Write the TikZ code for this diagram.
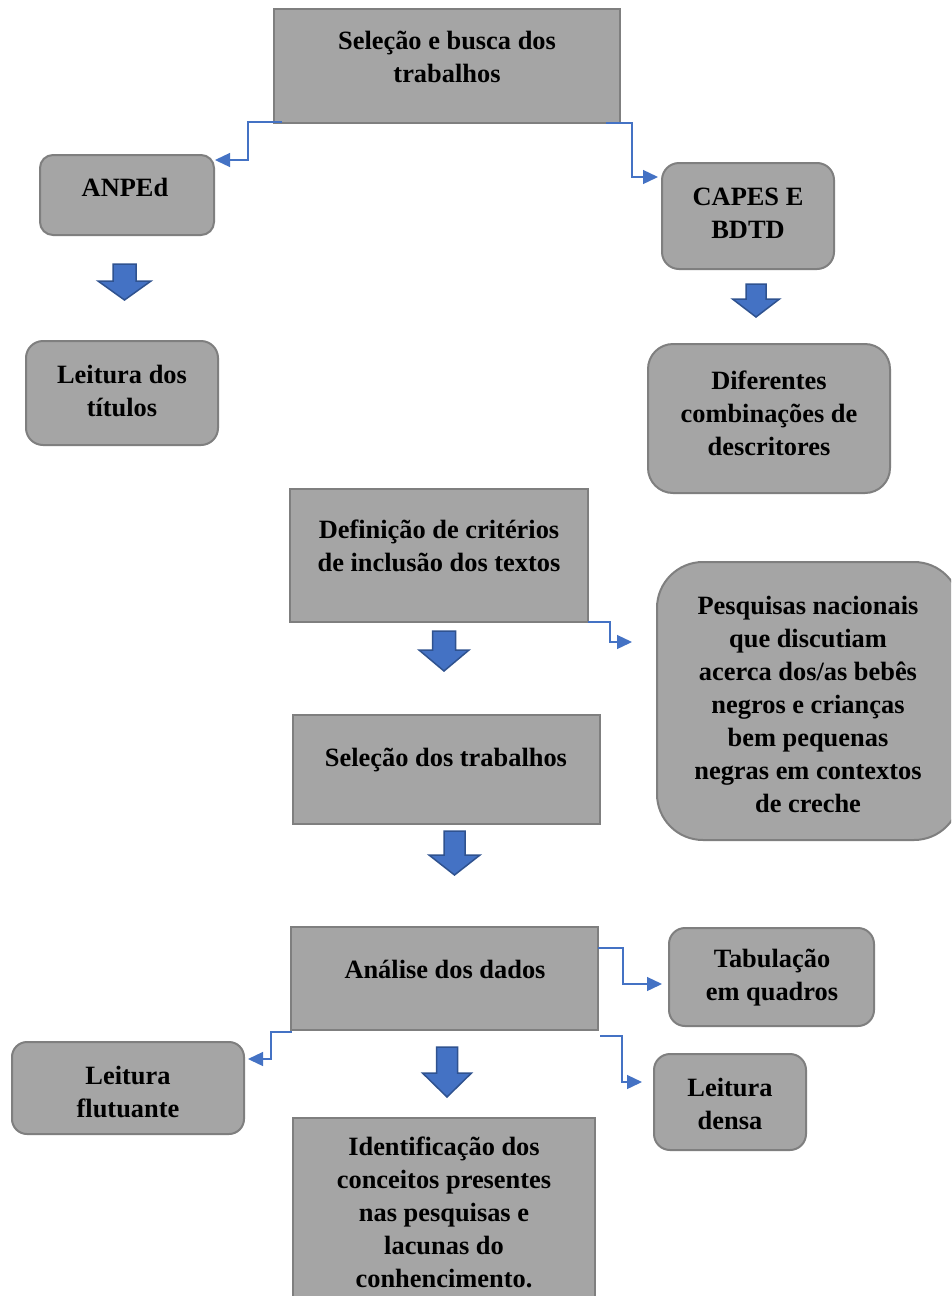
\documentclass[tikz,border=0pt]{standalone}
\usepackage{fontspec}
\setmainfont{Liberation Serif}
\usetikzlibrary{arrows.meta,calc}
\definecolor{boxfill}{HTML}{A5A5A5}
\definecolor{boxline}{HTML}{7F7F7F}
\definecolor{conblue}{HTML}{4472C4}
\definecolor{arrline}{HTML}{2F528F}
\newcommand\blockdn[6]{% cx, top, headstart, tip, halfshaft, halfhead
  \draw[blockarrow] (#1-#5,#2) -- (#1+#5,#2) -- (#1+#5,#3) -- (#1+#6,#3) -- (#1,#4) -- (#1-#6,#3) -- (#1-#5,#3) -- cycle;}
\tikzset{
  sqbox/.style={draw=boxline, fill=boxfill, line width=2pt, inner sep=0pt, outer sep=0pt, rectangle},
  rbox/.style={sqbox, rounded corners=#1},
  lbl/.style={font=\bfseries\fontsize{26.4}{33}\selectfont, align=center, inner sep=0pt, text=black},
  conn/.style={draw=conblue, line width=1.3pt, -{Triangle[length=15pt,width=14pt]}},
  blockarrow/.style={fill=conblue, draw=arrline, line width=1.5pt, line join=miter},
}
\begin{document}
\begin{tikzpicture}[x=1pt,y=-1pt]
\useasboundingbox (0,0) rectangle (951,1296);
\clip (0,0) rectangle (951,1296);
\fill[white] (0,0) rectangle (951,1296);
% boxes
\node[sqbox, minimum width=346pt, minimum height=114pt] (b1) at (447,66) {};
\node[lbl] at (447,57) {Seleção e busca dos\\trabalhos};
\node[rbox=13pt, minimum width=174pt, minimum height=80pt] (anped) at (127,195) {};
\node[lbl] at (125,187) {ANPEd};
\node[rbox=17pt, minimum width=172pt, minimum height=106pt] (capes) at (748,216) {};
\node[lbl] at (748,213) {CAPES E\\BDTD};
\node[rbox=17pt, minimum width=192pt, minimum height=104pt] (tit) at (122,393) {};
\node[lbl] at (122,391) {Leitura dos\\títulos};
\node[rbox=25pt, minimum width=242pt, minimum height=149pt] (dif) at (769,418.5) {};
\node[lbl] at (769,413) {Diferentes\\combinações de\\descritores};
\node[sqbox, minimum width=298pt, minimum height=133pt] (def) at (439,555.5) {};
\node[lbl] at (439,546) {Definição de critérios\\de inclusão dos textos};
\node[rbox=46pt, minimum width=303pt, minimum height=278pt] (pq) at (808.5,701) {};
\node[lbl] at (808,704) {Pesquisas nacionais\\que discutiam\\acerca dos/as bebês\\negros e crianças\\bem pequenas\\negras em contextos\\de creche};
\node[sqbox, minimum width=307pt, minimum height=109pt] (sel) at (446.5,769.5) {};
\node[lbl] at (446,760) {Seleção dos trabalhos};
\node[sqbox, minimum width=307pt, minimum height=103pt] (an) at (444.5,978.5) {};
\node[lbl] at (445,969) {Análise dos dados};
\node[rbox=16pt, minimum width=205pt, minimum height=98pt] (tab) at (771.5,977) {};
\node[lbl] at (772,978) {Tabulação\\em quadros};
\node[rbox=15pt, minimum width=232pt, minimum height=92pt] (flu) at (128,1088) {};
\node[lbl] at (128,1092) {Leitura\\flutuante};
\node[rbox=16pt, minimum width=152pt, minimum height=96pt] (den) at (730,1102) {};
\node[lbl] at (730,1104) {Leitura\\densa};
\node[sqbox, minimum width=302pt, minimum height=192pt] (idf) at (444,1214) {};
\node[lbl] at (444,1212) {Identificação dos\\conceitos presentes\\nas pesquisas e\\lacunas do\\conhencimento.};
% connectors
\draw[conn] ($(b1.south west)+(8,-1)$) -- ++(-34,0) |- ($(anped.north east)+(1,5)$);
\draw[conn] ($(b1.south east)+(-14,0)$) -- ++(26,0) |- ($(capes.north west)+(-4,14)$);
\draw[conn] ($(def.south east)+(0,0)$) -- ++(22,0) |- ($(pq.west)+(-25,-59)$);
\draw[conn] ($(an.north east)+(0,21)$) -- ++(25,0) |- ($(tab.west)+(-7,7)$);
\draw[conn] ($(an.south west)+(1,2)$) -- ++(-21,0) |- ($(flu.east)+(4,-29)$);
\draw[conn] ($(an.south east)+(2,6)$) -- ++(22,0) |- ($(den.west)+(-12,-20)$);
% block arrows
\blockdn{124.5}{264}{281}{300}{11.5}{26.5}
\blockdn{756}{284}{299}{317}{10}{23.5}
\blockdn{444}{631}{650}{671}{11.5}{25}
\blockdn{454.5}{831}{855}{875}{10.5}{25.5}
\blockdn{447}{1047}{1073}{1097}{10.5}{24.5}
\end{tikzpicture}
\end{document}
